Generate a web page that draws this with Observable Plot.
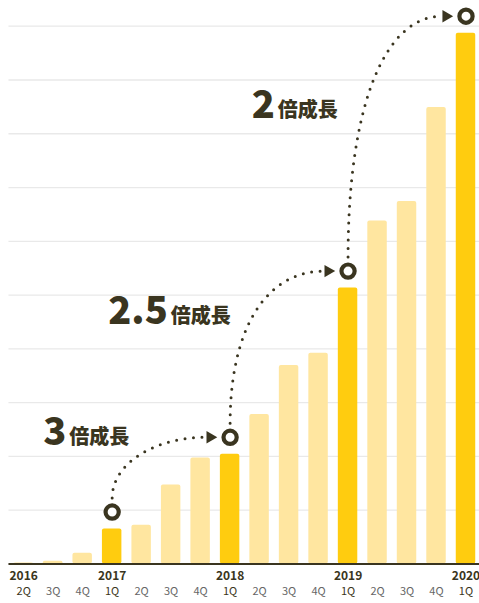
<!DOCTYPE html>
<html>
<head>
<meta charset="utf-8">
<script src="https://cdn.jsdelivr.net/npm/d3@7"></script>
<script src="https://cdn.jsdelivr.net/npm/@observablehq/plot@0.6"></script>
<style>
  html, body { margin: 0; padding: 0; background: #fff; }
  #chart svg { display: block; }
</style>
</head>
<body>
<div id="chart"></div>
<script>
// ---- data ----
const quarters = ["2Q","3Q","4Q","1Q","2Q","3Q","4Q","1Q","2Q","3Q","4Q","1Q","2Q","3Q","4Q","1Q"];
const years    = ["2016","","","2017","","","","2018","","","","2019","","","","2020"];
const values   = [0.2, 0.5, 2.0, 6.5, 7.2, 14.7, 19.7, 20.4, 27.8, 36.9, 39.2, 51.3, 63.8, 67.4, 84.9, 98.7];
const highlight = [false,false,false,true,false,false,false,true,false,false,false,true,false,false,false,true];
const gridValues = [10,20,30,40,50,60,70,80,90,100];
// growth annotations: from bar index -> to bar index
const growthFrom   = [3, 7, 11];
const growthTo     = [7, 11, 15];
const growthNumber = ["3", "2.5", "2"];
const growthSuffix = ["倍成長", "倍成長", "倍成長"];
const labelX = [1.48, 4.92, 8.55];   // junction of number/suffix (index units)
const labelY = [21.8, 44.2, 82.5];   // text baseline (value units)

// ---- derived tables ----
const bars = values.map((v, i) => ({i, v, hi: highlight[i], q: quarters[i], yr: years[i]}));
const keyBars = bars.filter(d => d.hi);
const ends = growthTo.map(j => bars[j]);

const INK = "#3a3520";
const BRIGHT = "#FFCC0F";
const LIGHT = "#FFE6A0";

const H = 603, mTop = 25.7, mBottom = 39.5;
const pxY = 100 / (H - mTop - mBottom);
const W = 479, mLeft = 23.2, mRight = 13.5;
const pxX = 15 / (W - mLeft - mRight);

// dotted connector curves (cubic bezier, near-elliptical quarter)
const curves = [];
growthFrom.forEach((s, k) => {
  const e = growthTo[k];
  const x0 = s, y0 = values[s] + 14 * pxY;
  const x3 = e - 24 * pxX, y3 = values[e];
  const c = k === 0 ? 0.56 : 0.62;
  const x1 = x0, y1 = y0 + c * (y3 - y0);
  const x2 = x0 + (1 - c) * (x3 - x0), y2 = y3;
  for (let n = 0; n <= 60; n++) {
    const t = n / 60, u = 1 - t;
    curves.push({
      k,
      x: u*u*u*x0 + 3*u*u*t*x1 + 3*u*t*t*x2 + t*t*t*x3,
      y: u*u*u*y0 + 3*u*u*t*y1 + 3*u*t*t*y2 + t*t*t*y3
    });
  }
});

const ann = growthNumber.map((n, k) => ({n, s: growthSuffix[k], x: labelX[k], y: labelY[k]}));

const font = "'Noto Sans CJK JP', 'Noto Sans', sans-serif";

const chart = Plot.plot({
  width: W,
  height: H,
  marginTop: mTop,
  marginBottom: mBottom,
  marginLeft: mLeft,
  marginRight: mRight,
  style: {fontFamily: font, background: "#fff", overflow: "visible"},
  x: {domain: [0, 15], axis: null},
  y: {domain: [0, 100], axis: null},
  marks: [
    Plot.ruleY(gridValues, {x1: -0.5, x2: 15.6, stroke: "#e9e9e9", strokeWidth: 1.3}),
    Plot.rectY(bars, {
      x1: d => d.i - 0.33, x2: d => d.i + 0.33, y1: 0, y2: "v",
      fill: d => d.hi ? BRIGHT : LIGHT, rx: 2
    }),
    Plot.ruleY([0], {x1: -0.5, x2: 15.6, stroke: INK, strokeWidth: 2}),
    Plot.line(curves, {
      x: "x", y: "y", z: "k", dy: -17,
      stroke: INK, strokeWidth: 3, strokeDasharray: "0 8.5", strokeLinecap: "round"
    }),
    Plot.dot(ends, {
      x: "i", y: "v", dx: -20, dy: -17, symbol: "triangle", rotate: 90, r: 4.6,
      fill: INK, stroke: "none"
    }),
    Plot.dot(keyBars, {
      x: "i", y: "v", dy: -17, r: 6.6, fill: "#fff", stroke: INK, strokeWidth: 4.2
    }),
    // growth labels
    Plot.text(ann, {
      x: "x", y: "y", text: "n", textAnchor: "end", lineAnchor: "bottom",
      fontSize: 38, fontWeight: 900, fill: INK, dx: -1, dy: -2
    }),
    Plot.text(ann, {
      x: "x", y: "y", text: "s", textAnchor: "start", lineAnchor: "bottom",
      fontSize: 20, fontWeight: 900, fill: INK, dx: 2, dy: -3
    }),
    // x labels
    Plot.text(bars.filter(d => d.yr), {
      x: "i", text: "yr", frameAnchor: "bottom", dy: 16,
      fontSize: 12, fontWeight: 700, fill: INK
    }),
    Plot.text(bars, {
      x: "i", text: "q", frameAnchor: "bottom", dy: 31,
      fontSize: 11,
      fontWeight: d => d.yr ? 700 : 400,
      fill: d => d.yr ? INK : "#666"
    })
  ]
});

document.getElementById("chart").appendChild(chart);
</script>
</body>
</html>
